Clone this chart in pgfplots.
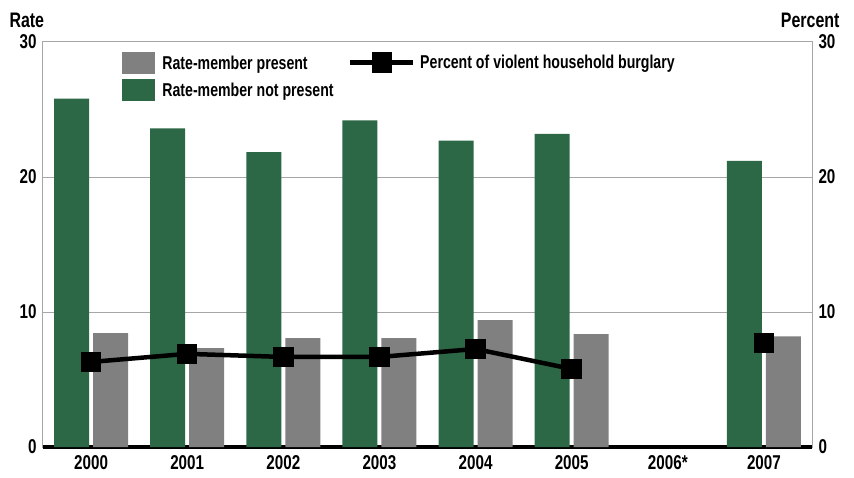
\documentclass[border=0pt]{standalone}
\usepackage{fontspec}
\setmainfont[FakeStretch=0.78, BoldFont={Liberation Sans Bold}, BoldFeatures={FakeStretch=0.76}]{Liberation Sans}
\usepackage{pgfplots}
\pgfplotsset{compat=1.18}
\definecolor{bargreen}{HTML}{2C6846}
\definecolor{bargray}{HTML}{808080}
\newcommand{\chartfont}{\fontsize{18.6}{21}\selectfont\bfseries}
\newcommand{\tickfont}{\fontsize{20}{22}\selectfont\bfseries}
\newcommand{\titlefont}{\fontsize{21}{23}\selectfont\bfseries}

% rate per 1,000 households, and percent of burglaries that were violent
\pgfplotstableread{
x present notpresent
0 8.44 25.8
1 7.33 23.6
2 8.07 21.85
3 8.07 24.2
4 9.40 22.7
5 8.37 23.2
7 8.20 21.2
}\ratetable
\pgfplotstableread{
x pct
0 6.30
1 6.90
2 6.67
3 6.67
4 7.26
5 5.78
6 nan
7 7.70
}\pcttable

\begin{document}
\begin{tikzpicture}
\pgfplotsset{
  base/.style={
    width=769pt, height=405pt, scale only axis,
    xmin=-0.5, xmax=7.5, ymin=0, ymax=30,
    ytick={0,10,20,30},
    major tick length=0pt,
    tick label style={font=\tickfont},
    /pgf/number format/assume math mode=true,
    axis line style={gray!70, line width=1pt},
    legend cell align=left,
  },
}
\begin{axis}[base, name=ax,
  xtick={0,...,7},
  xticklabels={2000,2001,2002,2003,2004,2005,2006*,2007},
  xticklabel style={yshift=-5pt},
  yticklabel style={xshift=-3pt},
  ymajorgrids, grid style={gray!70, line width=1pt},
  extra y ticks={0}, extra y tick labels={},
  extra y tick style={grid style={black, line width=3.5pt}},
  ybar, bar width=0.365,
  legend style={at={(0.103,0.975)}, anchor=north west, draw=none, fill=none,
    font=\chartfont, row sep=5pt, inner sep=0pt,
    /tikz/every odd column/.style={column sep=5pt}},
  legend image code/.code={\fill[#1] (0pt,-11pt) rectangle (33pt,11pt);},
]
\addplot[fill=bargray, draw=none, bar shift=0.203] table[x=x, y=present] {\ratetable};
\addlegendentry{Rate-member present}
\addplot[fill=bargreen, draw=none, bar shift=-0.203] table[x=x, y=notpresent] {\ratetable};
\addlegendentry{Rate-member not present}
\end{axis}
\begin{axis}[base,
  axis x line=none, axis y line*=right,
  yticklabel style={xshift=3pt},
  unbounded coords=jump,
  legend style={at={(0.396,0.95)}, anchor=west, draw=none, fill=none,
    font=\chartfont, inner sep=0pt,
    /tikz/every odd column/.style={column sep=3pt}},
  legend image code/.code={
    \draw[black, line width=4.5pt] (0pt,0pt) -- (63pt,0pt);
    \fill[black] (24pt,-8pt) rectangle (40pt,8pt);},
]
\addplot[black, line width=4.5pt, mark=square*, mark size=8pt] table[x=x, y=pct] {\pcttable};
\addlegendentry{Percent of violent household burglary}
\end{axis}
\node[font=\titlefont, anchor=south west] at ([xshift=-37pt,yshift=11pt]ax.north west) {Rate};
\node[font=\titlefont, anchor=south east] at ([xshift=31pt,yshift=11pt]ax.north east) {Percent};
\path (ax.south west) ++(-43pt,-30pt) rectangle ++(854pt,477pt);
\end{tikzpicture}
\end{document}
